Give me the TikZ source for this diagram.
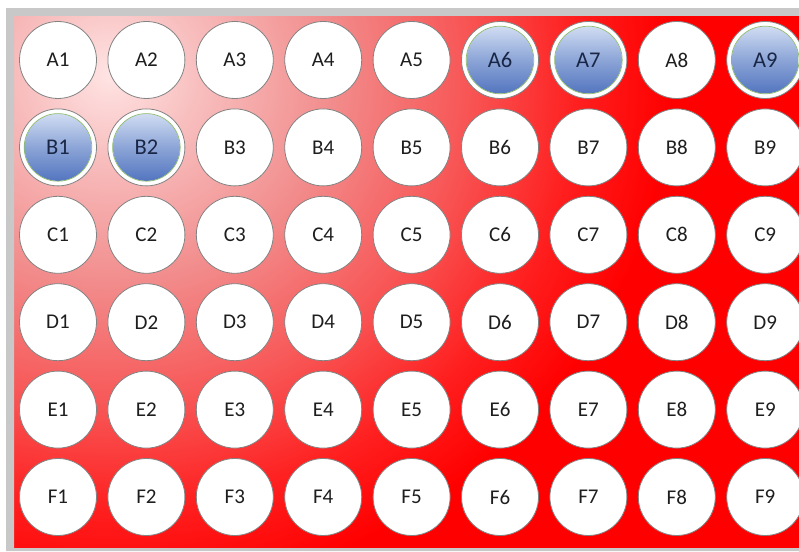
\documentclass[tikz,border=0pt]{standalone}
\usepackage{fontspec}
\setmainfont{Carlito}
\definecolor{framegray}{RGB}{200,200,200}
\definecolor{bgred}{RGB}{255,0,0}
\definecolor{bgA}{RGB}{255,228,228}
\definecolor{bgB}{RGB}{248,190,190}
\definecolor{bgC}{RGB}{242,140,140}
\definecolor{bgD}{RGB}{248,85,85}
\definecolor{bgE}{RGB}{255,30,30}
\definecolor{wellborder}{RGB}{130,130,130}
\definecolor{welltext}{RGB}{30,30,30}
\definecolor{bluetop}{RGB}{218,228,246}
\definecolor{bluemid}{RGB}{140,165,215}
\definecolor{bluebot}{RGB}{75,110,188}
\definecolor{bluetext}{RGB}{25,38,70}
\definecolor{ringgreen}{RGB}{140,185,110}
\pgfdeclareradialshading{bgshade}{\pgfpoint{0bp}{0bp}}{%
  color(0bp)=(bgA); color(4bp)=(bgB); color(10bp)=(bgC);
  color(16bp)=(bgD); color(21bp)=(bgE); color(25bp)=(bgred); color(50bp)=(bgred)}
\expandafter\def\csname blue@A6\endcsname{}
\expandafter\def\csname blue@A7\endcsname{}
\expandafter\def\csname blue@A9\endcsname{}
\expandafter\def\csname blue@B1\endcsname{}
\expandafter\def\csname blue@B2\endcsname{}
\tikzset{
  whitewell/.style={circle, minimum size=77pt, inner sep=0pt, fill=white,
    draw=wellborder, line width=0.8pt, text=welltext,
    font=\fontsize{21}{25}\selectfont},
  bluewell/.style={circle, minimum size=77pt, inner sep=0pt, fill=white,
    draw=wellborder, line width=0.8pt, text=bluetext,
    font=\fontsize{22.5}{27}\selectfont,
    path picture={
      \shade[top color=bluetop, bottom color=bluebot, middle color=bluemid]
        (path picture bounding box.center) circle (33.5pt);
      \draw[ringgreen, line width=0.7pt]
        (path picture bounding box.center) circle (33.8pt);
    }},
}
\begin{document}
\begin{tikzpicture}[x=1pt,y=1pt]
\useasboundingbox (0,0) rectangle (799,551);
\begin{scope}
  \clip (14,3) rectangle (799,535);
  \fill[bgred] (14,3) rectangle (799,535);
  \shade[shading=bgshade] (110,476) ellipse (560 and 520);
\end{scope}
% frame drawn over the background so that nothing spills onto it
\fill[framegray, even odd rule] (6,0) rectangle (799,543) (14,3) rectangle (799,535);
\fill[white] (0,543) rectangle (799,551);
\fill[white] (0,0) rectangle (6,543);
\foreach \r [count=\ri from 0] in {A,B,C,D,E,F} {
  \foreach \c in {1,...,9} {
    \pgfmathsetmacro\xx{58+88.4*(\c-1)}
    \pgfmathsetmacro\yy{551-60-87.4*\ri}
    \ifcsname blue@\r\c\endcsname
      \node[bluewell] (\r\c) at (\xx,\yy) {\r\c};
    \else
      \node[whitewell] (\r\c) at (\xx,\yy) {\r\c};
    \fi
  }
}
\end{tikzpicture}
\end{document}
